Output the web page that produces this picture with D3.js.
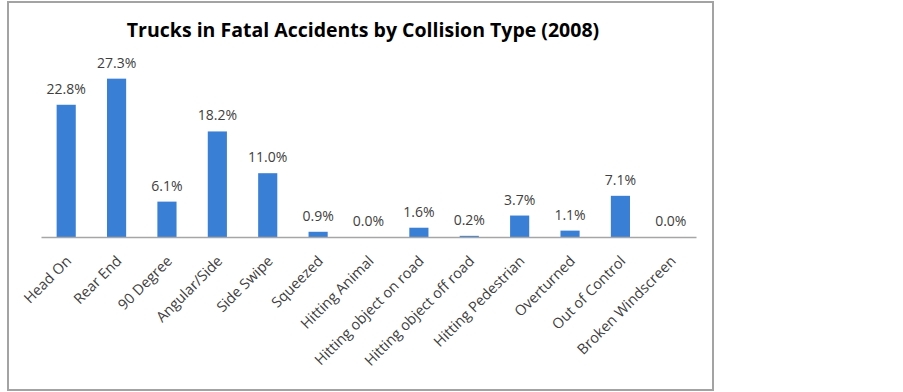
<!DOCTYPE html>
<html>
<head>
<meta charset="utf-8">
<script src="https://cdn.jsdelivr.net/npm/d3@7"></script>
<style>
  body { margin: 0; background: #fff; }
  text { font-family: "Open Sans", sans-serif; }
</style>
</head>
<body>
<div id="chart"></div>
<script>
var categories = ["Head On", "Rear End", "90 Degree", "Angular/Side", "Side Swipe", "Squeezed",
    "Hitting Animal", "Hitting object on road", "Hitting object off road", "Hitting Pedestrian",
    "Overturned", "Out of Control", "Broken Windscreen"];
var values = [22.8, 27.3, 6.1, 18.2, 11.0, 0.9, 0.0, 1.6, 0.2, 3.7, 1.1, 7.1, 0.0];
var title = "Trucks in Fatal Accidents by Collision Type (2008)";

var width = 903;
var height = 392;
var baseline = 237;

var svg = d3.select("#chart")
    .append("svg")
    .attr("width", width)
    .attr("height", height);

// chart frame
svg.append("rect")
    .attr("x", 8)
    .attr("y", 2)
    .attr("width", 705)
    .attr("height", 388)
    .attr("fill", "#fff")
    .attr("stroke", "#a3a3a3")
    .attr("stroke-width", 2);

svg.append("text")
    .attr("x", 363)
    .attr("y", 37)
    .attr("text-anchor", "middle")
    .attr("font-size", "19.5px")
    .attr("font-weight", "bold")
    .attr("fill", "#000")
    .text(title);

var xScale = d3.scaleBand()
    .domain(categories)
    .range([41, 696])
    .paddingInner(0.62)
    .paddingOuter(0.31);

var yScale = d3.scaleLinear()
    .domain([0, 30])
    .range([baseline, baseline - 174]);

svg.selectAll(".bar")
    .data(values)
    .enter()
    .append("rect")
    .attr("class", "bar")
    .attr("x", function (d, i) { return xScale(categories[i]); })
    .attr("y", function (d) { return yScale(d); })
    .attr("width", xScale.bandwidth())
    .attr("height", function (d) { return yScale(0) - yScale(d); })
    .attr("fill", "#3a7fd6");

var xAxis = d3.axisBottom(xScale).tickSize(0).tickPadding(0);

var gx = svg.append("g")
    .attr("transform", "translate(0," + baseline + ")")
    .call(xAxis);
gx.select(".domain").attr("stroke", "#a6a6a6").attr("stroke-width", 1.5);
gx.selectAll(".tick text")
    .attr("font-family", "Open Sans, sans-serif")
    .attr("font-size", "14.5px")
    .attr("fill", "#404040")
    .attr("text-anchor", "end")
    .attr("dy", null)
    .attr("y", 0)
    .attr("transform", "translate(6,25) rotate(-45)");

svg.selectAll(".val")
    .data(values)
    .enter()
    .append("text")
    .attr("class", "val")
    .attr("x", function (d, i) { return xScale(categories[i]) + xScale.bandwidth() / 2; })
    .attr("y", function (d) { return yScale(d) - 11; })
    .attr("text-anchor", "middle")
    .attr("font-size", "14px")
    .attr("fill", "#404040")
    .text(function (d) { return d.toFixed(1) + "%"; });
</script>
</body>
</html>
